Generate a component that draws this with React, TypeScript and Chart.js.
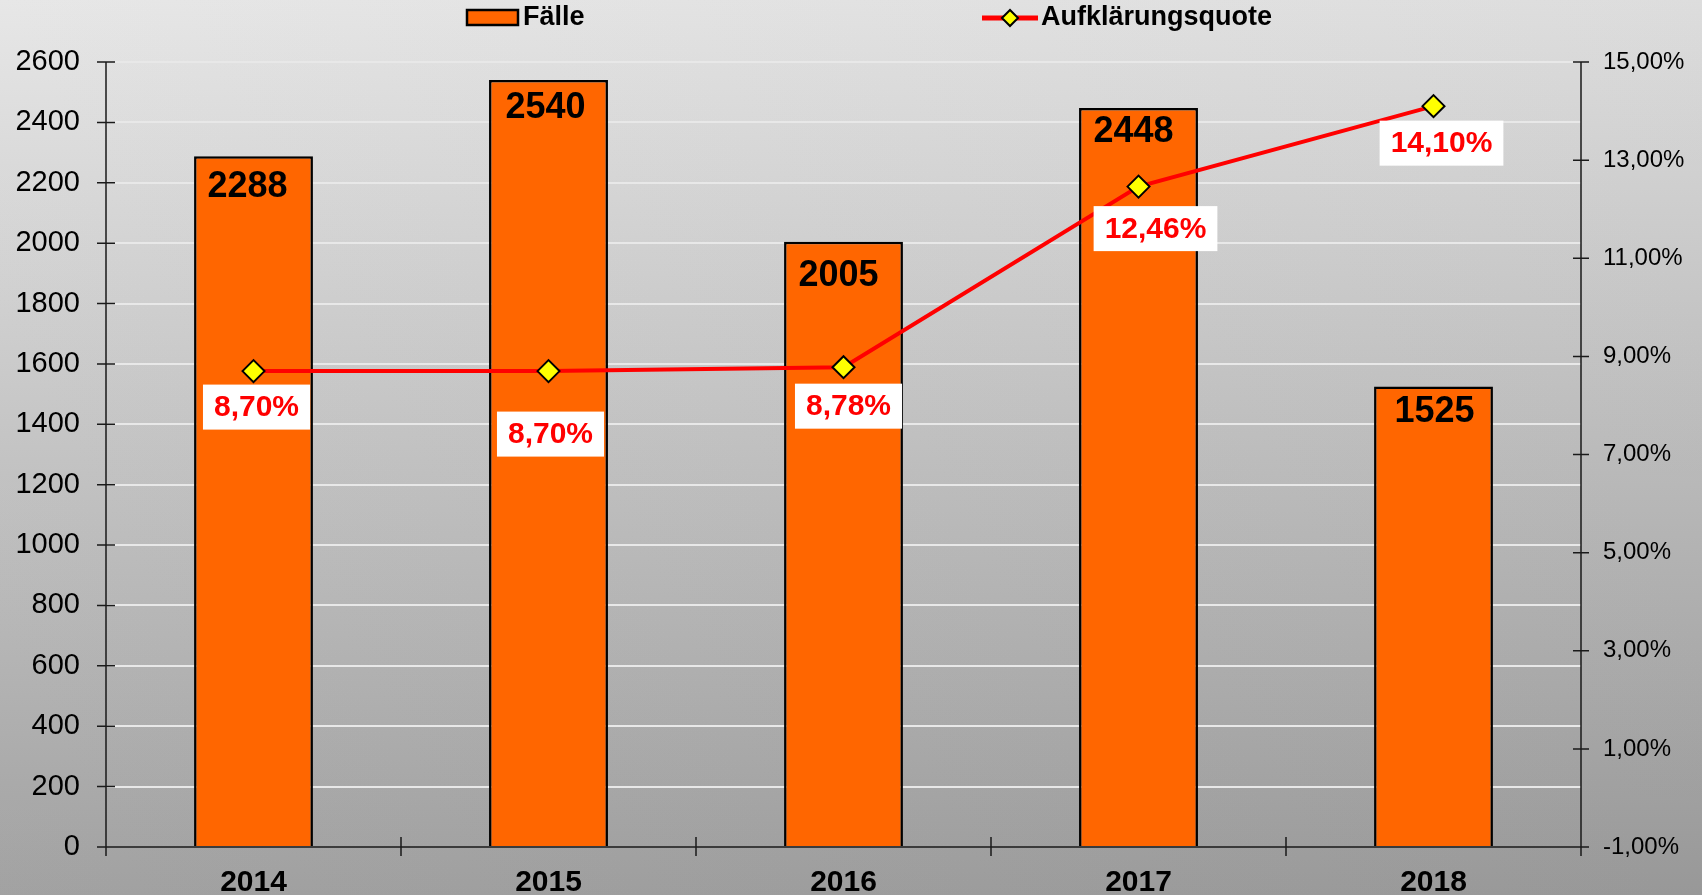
import React, { useEffect, useRef } from 'react';
import { Chart, registerables } from 'chart.js';

Chart.register(...registerables);

const years = ['2014', '2015', '2016', '2017', '2018'];
const faelle = [2288, 2540, 2005, 2448, 1525];
const quote = [8.7, 8.7, 8.78, 12.46, 14.1];
const leftMin = 0;
const leftMax = 2600;
const leftStep = 200;
const rightMin = -1;
const rightMax = 15;
const rightStep = 2;

// label placement (style only)
const barLabelOffsets = [[-6, 31], [-3, 28], [-5, 34], [-5, 24], [1, 26]];
const lineLabelOffsets = [[3, 36], [2, 63], [5, 39], [17, 42], [8, 37]];

const FONT = '"Liberation Sans", Arial, sans-serif';
const ORANGE = '#FF6600';
const RED = '#FF0000';

const fmtPct = (v: number) => v.toFixed(2).replace('.', ',') + '%';

const bgPlugin = {
  id: 'bg',
  beforeDraw(chart: any) {
    const { ctx, width, height } = chart;
    ctx.save();
    const g = ctx.createLinearGradient(0, 0, 0, height);
    g.addColorStop(0, '#e6e6e6');
    g.addColorStop(1, '#9e9e9e');
    ctx.fillStyle = g;
    ctx.fillRect(0, 0, width, height);
    const h = ctx.createLinearGradient(0, 0, width, 0);
    h.addColorStop(0, 'rgba(255,255,255,0.04)');
    h.addColorStop(1, 'rgba(0,0,0,0.04)');
    ctx.fillStyle = h;
    ctx.fillRect(0, 0, width, height);
    ctx.restore();
  },
};

const axesPlugin = {
  id: 'axesDraw',
  beforeDatasetsDraw(chart: any) {
    const { ctx, chartArea } = chart;
    const { left, right, top, bottom } = chartArea;
    const yL = chart.scales.y;
    const yR = chart.scales.y1;
    ctx.save();
    ctx.strokeStyle = '#1a1a1a';
    ctx.lineWidth = 1.5;
    ctx.beginPath();
    ctx.moveTo(left, top);
    ctx.lineTo(left, bottom);
    ctx.moveTo(right, top);
    ctx.lineTo(right, bottom);
    ctx.moveTo(left, bottom);
    ctx.lineTo(right, bottom);
    yL.ticks.forEach((t: any) => {
      const py = yL.getPixelForValue(t.value);
      ctx.moveTo(left - 9, py);
      ctx.lineTo(left + 9, py);
    });
    yR.ticks.forEach((t: any) => {
      const py = yR.getPixelForValue(t.value);
      ctx.moveTo(right - 8, py);
      ctx.lineTo(right + 8, py);
    });
    const n = years.length;
    const cw = (right - left) / n;
    for (let k = 0; k <= n; k++) {
      const px = left + cw * k;
      ctx.moveTo(px, bottom - 10);
      ctx.lineTo(px, bottom + 9);
    }
    ctx.stroke();
    ctx.restore();
  },
};

const labelPlugin = {
  id: 'valueLabels',
  afterDatasetsDraw(chart: any) {
    const { ctx } = chart;
    ctx.save();
    ctx.textAlign = 'center';
    ctx.textBaseline = 'middle';
    const barMeta = chart.getDatasetMeta(1);
    barMeta.data.forEach((el: any, i: number) => {
      const [dx, dy] = barLabelOffsets[i];
      ctx.font = `bold 36px ${FONT}`;
      ctx.fillStyle = '#000';
      ctx.fillText(String(faelle[i]), el.x + dx, el.y + dy);
    });
    const lineMeta = chart.getDatasetMeta(0);
    lineMeta.data.forEach((el: any, i: number) => {
      const [dx, dy] = lineLabelOffsets[i];
      const text = fmtPct(quote[i]);
      ctx.font = `bold 30px ${FONT}`;
      const w = ctx.measureText(text).width + 22;
      const h = 45;
      const cx = el.x + dx;
      const cy = el.y + dy;
      ctx.fillStyle = '#ffffff';
      ctx.fillRect(cx - w / 2, cy - h / 2, w, h);
      ctx.fillStyle = RED;
      ctx.fillText(text, cx, cy + 1);
    });
    ctx.restore();
  },
};

const legendPlugin = {
  id: 'customLegend',
  afterDraw(chart: any) {
    const { ctx } = chart;
    ctx.save();
    // Fälle
    ctx.fillStyle = ORANGE;
    ctx.fillRect(467, 10, 51, 15);
    ctx.strokeStyle = '#000';
    ctx.lineWidth = 2.5;
    ctx.strokeRect(467, 10, 51, 15);
    ctx.font = `bold 27px ${FONT}`;
    ctx.fillStyle = '#000';
    ctx.textAlign = 'left';
    ctx.textBaseline = 'middle';
    ctx.fillText('Fälle', 523, 18);
    // Aufklärungsquote
    ctx.strokeStyle = RED;
    ctx.lineWidth = 5;
    ctx.beginPath();
    ctx.moveTo(982, 18);
    ctx.lineTo(1038, 18);
    ctx.stroke();
    const cx = 1010;
    const cy = 18;
    const r = 8;
    ctx.beginPath();
    ctx.moveTo(cx - r, cy);
    ctx.lineTo(cx, cy - r);
    ctx.lineTo(cx + r, cy);
    ctx.lineTo(cx, cy + r);
    ctx.closePath();
    ctx.fillStyle = '#FFFF00';
    ctx.fill();
    ctx.strokeStyle = '#000';
    ctx.lineWidth = 2;
    ctx.stroke();
    ctx.fillStyle = '#000';
    ctx.fillText('Aufklärungsquote', 1041, 18);
    ctx.restore();
  },
};

export default function App() {
  const ref = useRef<HTMLCanvasElement>(null);
  useEffect(() => {
    document.body.style.margin = '0';
    document.body.style.overflow = 'hidden';
    const chart = new Chart(ref.current as HTMLCanvasElement, {
      type: 'bar',
      data: {
        labels: years,
        datasets: [
          {
            type: 'line',
            label: 'Aufklärungsquote',
            data: quote,
            yAxisID: 'y1',
            borderColor: RED,
            borderWidth: 4,
            pointStyle: 'rectRot',
            pointRadius: 11,
            pointBackgroundColor: '#FFFF00',
            pointBorderColor: '#000',
            pointBorderWidth: 2,
            tension: 0,
            order: 0,
          } as any,
          {
            type: 'bar',
            label: 'Fälle',
            data: faelle,
            yAxisID: 'y',
            backgroundColor: ORANGE,
            borderColor: '#000',
            borderWidth: 2.5,
            barPercentage: 0.403,
            categoryPercentage: 1,
            order: 1,
          } as any,
        ],
      },
      options: {
        animation: false,
        responsive: true,
        maintainAspectRatio: false,
        layout: { padding: { top: 62, left: 0, right: 0, bottom: 0 } },
        plugins: {
          legend: { display: false },
          tooltip: { enabled: false },
        },
        scales: {
          x: {
            offset: true,
            grid: { display: false, drawTicks: false },
            border: { display: false },
            ticks: {
              color: '#000',
              padding: 18,
              font: { family: FONT, size: 30, weight: 'bold' },
            },
            afterFit(scale: any) {
              scale.height = 48;
            },
          },
          y: {
            position: 'left',
            min: leftMin,
            max: leftMax,
            ticks: {
              stepSize: leftStep,
              autoSkip: false,
              color: '#000',
              padding: 26,
              font: { family: FONT, size: 29 },
              callback: (v: any) => String(v),
            },
            grid: {
              drawTicks: false,
              lineWidth: 2,
              color: (c: any) => (c.tick && c.tick.value === 0 ? 'rgba(0,0,0,0)' : '#e8e8e8'),
            },
            border: { display: false },
            afterFit(scale: any) {
              scale.width = 106;
            },
          },
          y1: {
            position: 'right',
            min: rightMin,
            max: rightMax,
            ticks: {
              stepSize: rightStep,
              autoSkip: false,
              color: '#000',
              padding: 22,
              font: { family: FONT, size: 24 },
              callback: (v: any) => fmtPct(Number(v)),
            },
            grid: { display: false, drawTicks: false },
            border: { display: false },
            afterFit(scale: any) {
              scale.width = 121;
            },
          },
        },
      } as any,
      plugins: [bgPlugin, axesPlugin, labelPlugin, legendPlugin],
    });
    return () => chart.destroy();
  }, []);
  return (
    <div style={{ width: 1702, height: 895, position: 'relative' }}>
      <canvas ref={ref} />
    </div>
  );
}
